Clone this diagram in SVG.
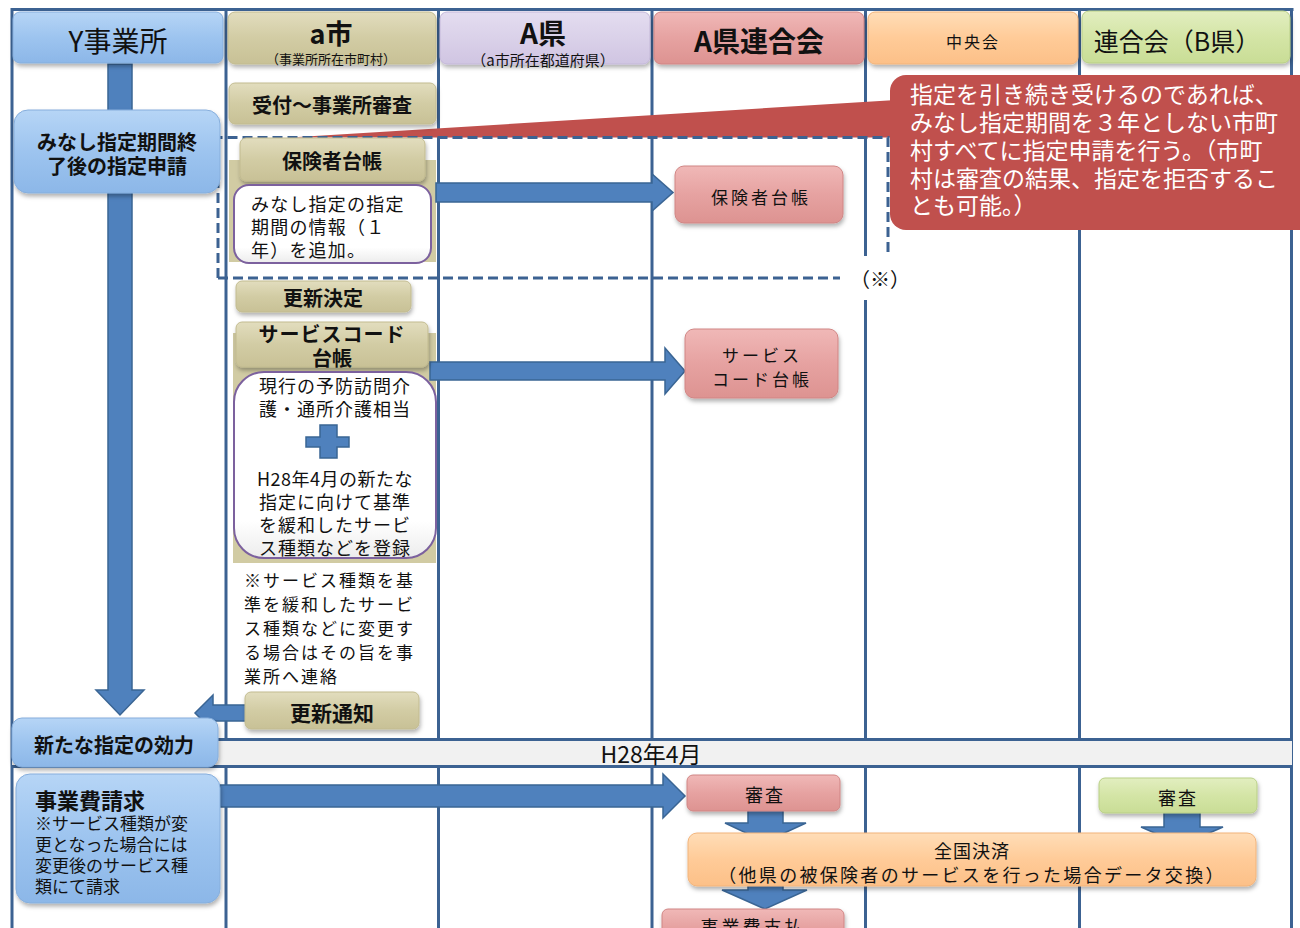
<svg xmlns="http://www.w3.org/2000/svg" width="1300" height="928" viewBox="0 0 1300 928">
<defs>
<linearGradient id="gBlue" x1="0" y1="0" x2="0" y2="1"><stop offset="0" stop-color="#B6D5F6"/><stop offset="0.5" stop-color="#9DC4EF"/><stop offset="1" stop-color="#8CB7E8"/></linearGradient>
<linearGradient id="gTan" x1="0" y1="0" x2="0" y2="1"><stop offset="0" stop-color="#E2DDBE"/><stop offset="0.5" stop-color="#D2CCA4"/><stop offset="1" stop-color="#C8C196"/></linearGradient>
<linearGradient id="gPink" x1="0" y1="0" x2="0" y2="1"><stop offset="0" stop-color="#F0B8B7"/><stop offset="0.5" stop-color="#E6A2A1"/><stop offset="1" stop-color="#DD9391"/></linearGradient>
<linearGradient id="gOrange" x1="0" y1="0" x2="0" y2="1"><stop offset="0" stop-color="#FFDDB7"/><stop offset="0.5" stop-color="#FFCB98"/><stop offset="1" stop-color="#FCC088"/></linearGradient>
<linearGradient id="gGreen" x1="0" y1="0" x2="0" y2="1"><stop offset="0" stop-color="#E2EEC0"/><stop offset="0.5" stop-color="#D4E5A6"/><stop offset="1" stop-color="#C9DD96"/></linearGradient>
<linearGradient id="gLav" x1="0" y1="0" x2="0" y2="1"><stop offset="0" stop-color="#E4DDF0"/><stop offset="0.5" stop-color="#DAD1E9"/><stop offset="1" stop-color="#D0C5E2"/></linearGradient>
<linearGradient id="gWhite" x1="0" y1="0" x2="0" y2="1"><stop offset="0" stop-color="#FFFFFF"/><stop offset="0.8" stop-color="#FFFFFF"/><stop offset="1" stop-color="#ECECEC"/></linearGradient>
<filter id="sh" x="-10%" y="-20%" width="120%" height="150%"><feDropShadow dx="1" dy="3" stdDeviation="2" flood-color="#000" flood-opacity="0.3"/></filter>
</defs>
<style>
text{font-family:"Noto Sans CJK JP","Liberation Sans",sans-serif;fill:#111;text-anchor:middle;dominant-baseline:central;}
.b{font-weight:bold;}
.l{text-anchor:start;}
.lane{stroke:#3C6292;stroke-width:3;fill:none;}
.dash{stroke:#3C6292;stroke-width:3;fill:none;stroke-dasharray:10 5;}
.arr{fill:#4F81BD;stroke:#3A6594;stroke-width:1.5;}
.blue{fill:url(#gBlue);stroke:#86AEDC;stroke-width:1;filter:url(#sh);}
.tan{fill:url(#gTan);stroke:#C2BB90;stroke-width:1;filter:url(#sh);}
.pink{fill:url(#gPink);stroke:#D08584;stroke-width:1;filter:url(#sh);}
.orange{fill:url(#gOrange);stroke:#F2B47B;stroke-width:1;filter:url(#sh);}
.green{fill:url(#gGreen);stroke:#B9CF86;stroke-width:1;filter:url(#sh);}
.lav{fill:url(#gLav);stroke:#C4B8D9;stroke-width:1;filter:url(#sh);}
.wbox{fill:url(#gWhite);stroke:#7C619E;stroke-width:2;}
.panel{fill:#D1CBA3;}
</style>
<rect x="0" y="0" width="1300" height="928" fill="#FFFFFF"/>
<g id="lanes">
<path class="lane" d="M10.5,9.5 H1293.5 M12,9.5 V928 M226,9.5 V928 M438.5,9.5 V928 M652,9.5 V928 M865.5,9.5 V928 M1079.5,9.5 V928 M1291.5,9.5 V928"/>
</g>
<g id="band">
<rect x="12" y="739.5" width="1280" height="27" fill="#F1F1F1"/>
<path class="lane" d="M12,739.5 H1292 M12,766.5 H1292"/>
<text x="651" y="753" font-size="23">H28年4月</text>
</g>
<g id="panels">
<rect class="panel" x="229" y="160" width="207" height="102"/>
<rect class="panel" x="233" y="333" width="203" height="230"/>
</g>
<g id="callout">
<polygon points="290,137.5 896,100 896,137.5" fill="#C0504D"/>
<rect x="890" y="75" width="430" height="155" rx="16" fill="#C0504D"/>
<text class="l" x="910" y="93" font-size="23" fill="#FFFFFF" style="fill:#FFFFFF">指定を引き続き受けるのであれば、</text>
<text class="l" x="910" y="121" font-size="23" style="fill:#FFFFFF">みなし指定期間を３年としない市町</text>
<text class="l" x="910" y="149" font-size="23" style="fill:#FFFFFF">村すべてに指定申請を行う。（市町</text>
<text class="l" x="910" y="177" font-size="23" style="fill:#FFFFFF">村は審査の結果、指定を拒否するこ</text>
<text class="l" x="910" y="204" font-size="23" style="fill:#FFFFFF">とも可能。）</text>
</g>
<g id="scope">
<path class="dash" d="M218,278 V137.5 H888 V255 M218,278 H840"/>
<rect x="848" y="256" width="54" height="44" fill="#FFFFFF"/>
<text x="880" y="278" font-size="20">（※）</text>
</g>
<g id="connectors">
<polygon class="arr" points="108,64 132,64 132,690 144,690 120,715 96,690 108,690"/>
<polygon class="arr" points="436,183 652,183 652,174 673,192.5 652,211 652,202 436,202"/>
<polygon class="arr" points="430,362 665,362 665,348 685,371 665,394 665,380 430,380"/>
<polygon class="arr" points="246,705 213,705 213,695 195,713 213,731 213,721 246,721"/>
<polygon class="arr" points="220,785 663,785 663,774 685,796 663,818 663,807 220,807"/>
<polygon class="arr" points="748,808 783,808 783,823 806,823 765,842 725,823 748,823"/>
<polygon class="arr" points="1164,811 1200,811 1200,827 1223,827 1182,845 1141,827 1164,827"/>
<polygon class="arr" points="748,884 783,884 783,890 807,890 765,909 722,890 748,890"/>
</g>
<g id="h-y"><rect class="blue" x="13" y="12" width="210" height="51" rx="7"/><text x="118" y="40" font-size="28">Y事業所</text></g>
<g id="h-a"><rect class="tan" x="228" y="12" width="208" height="52" rx="7"/><text class="b" x="331" y="32" font-size="27">a市</text><text x="331" y="58" font-size="13">（事業所所在市町村）</text></g>
<g id="h-ak"><rect class="lav" x="440" y="12" width="210" height="52" rx="7"/><text class="b" x="543" y="32" font-size="28">A県</text><text x="543" y="59" font-size="15">（a市所在都道府県）</text></g>
<g id="h-ar"><rect class="pink" x="654" y="12" width="210" height="52" rx="7"/><text class="b" x="759" y="40" font-size="28">A県連合会</text></g>
<g id="h-c"><rect class="orange" x="868" y="12" width="210" height="52" rx="7"/><text x="973" y="41" font-size="16" letter-spacing="2">中央会</text></g>
<g id="h-b"><rect class="green" x="1082" y="11" width="208" height="52" rx="7"/><text x="1177" y="40" font-size="25">連合会（B県）</text></g>
<g id="n-apply"><rect class="blue" x="14" y="110" width="206" height="83" rx="14"/><text class="b" x="117" y="141" font-size="20">みなし指定期間終</text><text class="b" x="117" y="165" font-size="20">了後の指定申請</text></g>
<g id="n-uketsuke"><rect class="tan" x="229" y="83" width="207" height="41" rx="6"/><text class="b" x="332" y="104" font-size="20">受付～事業所審査</text></g>
<g id="n-hoken"><rect class="tan" x="240" y="138" width="185" height="43" rx="6"/><text class="b" x="332" y="160" font-size="20">保険者台帳</text></g>
<g id="n-hoken-note"><rect class="wbox" x="234" y="185" width="197" height="78" rx="15"/><text class="l" x="251" y="203" font-size="18" letter-spacing="1.2">みなし指定の指定</text><text class="l" x="251" y="226" font-size="18" letter-spacing="1.2">期間の情報（１</text><text class="l" x="251" y="249" font-size="18" letter-spacing="1.2">年）を追加。</text></g>
<g id="n-koshin"><rect class="tan" x="236" y="281" width="175" height="31" rx="6"/><text class="b" x="323" y="297" font-size="20">更新決定</text></g>
<g id="n-svc"><rect class="tan" x="236" y="322" width="192" height="45" rx="6"/><text class="b" x="332" y="333" font-size="20" letter-spacing="1">サービスコード</text><text class="b" x="332" y="357" font-size="20">台帳</text></g>
<g id="n-svc-note"><rect class="wbox" x="234" y="372" width="202" height="186" rx="30"/>
<text x="335" y="385" font-size="18" letter-spacing="1">現行の予防訪問介</text>
<text x="335" y="408" font-size="18" letter-spacing="1">護・通所介護相当</text>
<path d="M320,425 H337 V437 H349 V447 H337 V458 H320 V447 H306 V437 H320 Z" fill="#4F81BD" stroke="#3A6594" stroke-width="1.5"/>
<text x="335" y="478" font-size="18" letter-spacing="0.5">H28年4月の新たな</text>
<text x="335" y="501" font-size="18" letter-spacing="1">指定に向けて基準</text>
<text x="335" y="524" font-size="18" letter-spacing="1">を緩和したサービ</text>
<text x="335" y="547" font-size="18" letter-spacing="1">ス種類などを登録</text></g>
<g id="n-note"><text class="l" x="244" y="579" font-size="17" letter-spacing="2">※サービス種類を基</text><text class="l" x="244" y="603" font-size="17" letter-spacing="2">準を緩和したサービ</text><text class="l" x="244" y="627" font-size="17" letter-spacing="2">ス種類などに変更す</text><text class="l" x="244" y="651" font-size="17" letter-spacing="2">る場合はその旨を事</text><text class="l" x="244" y="675" font-size="17" letter-spacing="2">業所へ連絡</text></g>
<g id="n-tsuchi"><rect class="tan" x="245" y="692" width="174" height="37" rx="6"/><text class="b" x="332" y="712" font-size="21">更新通知</text></g>
<g id="n-koryoku"><rect class="blue" x="12" y="718" width="206" height="49" rx="10"/><text class="b" x="114" y="744" font-size="20">新たな指定の効力</text></g>
<g id="n-seikyu"><rect class="blue" x="16" y="774" width="204" height="129" rx="14"/><text class="b l" x="35" y="799" font-size="22">事業費請求</text><text class="l" x="35" y="822" font-size="17">※サービス種類が変</text><text class="l" x="35" y="843" font-size="17">更となった場合には</text><text class="l" x="35" y="864" font-size="17">変更後のサービス種</text><text class="l" x="35" y="885" font-size="17">類にて請求</text></g>
<g id="n-r-hoken"><rect class="pink" x="675" y="166" width="168" height="57" rx="9"/><text x="761" y="196" font-size="17" letter-spacing="3">保険者台帳</text></g>
<g id="n-r-svc"><rect class="pink" x="685" y="329" width="153" height="69" rx="9"/><text x="762" y="354" font-size="17" letter-spacing="3">サービス</text><text x="762" y="378" font-size="17" letter-spacing="3">コード台帳</text></g>
<g id="n-r-shinsa"><rect class="pink" x="687" y="775" width="153" height="36" rx="6"/><text x="765" y="794" font-size="18" letter-spacing="2">審査</text></g>
<g id="n-b-shinsa"><rect class="green" x="1099" y="778" width="158" height="35" rx="6"/><text x="1178" y="797" font-size="18" letter-spacing="2">審査</text></g>
<g id="n-kessai"><rect class="orange" x="688" y="833" width="568" height="53" rx="9"/><text x="972" y="850" font-size="18" letter-spacing="1">全国決済</text><text x="972" y="874" font-size="18" letter-spacing="2.3">（他県の被保険者のサービスを行った場合データ交換）</text></g>
<g id="n-shiharai"><rect class="pink" x="662" y="909" width="182" height="36" rx="6"/><text x="753" y="926" font-size="18" letter-spacing="3">事業費支払</text></g>
</svg>
